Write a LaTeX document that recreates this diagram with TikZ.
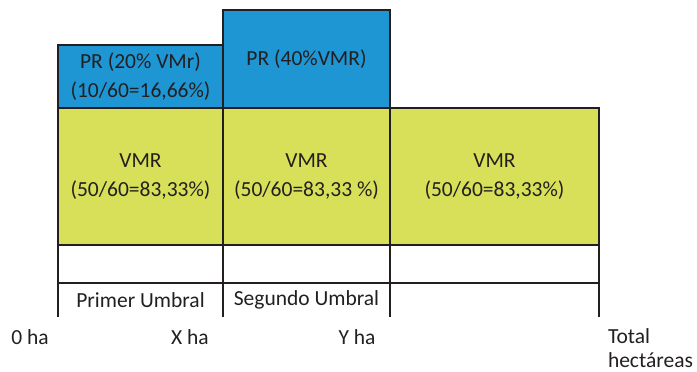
\documentclass[tikz,border=0pt]{standalone}
\usepackage{fontspec}
\setmainfont{Carlito}
\usepackage{tikz}
\definecolor{prblue}{RGB}{31,150,212}
\definecolor{vmrgreen}{RGB}{216,223,88}
\definecolor{ink}{RGB}{35,31,32}
\tikzset{
  cell/.style={draw=ink, line width=2pt, inner sep=0pt, outer sep=0pt, align=center, text=ink},
  plain/.style={inner sep=0pt, outer sep=0pt, align=center, text=ink}
}

\begin{document}
\begin{tikzpicture}[x=1pt, y=-1pt, font=\fontsize{21.5}{28.5}\selectfont]
            \useasboundingbox (0,0) rectangle (697,372);

            % Green band with the three VMR boxes
            \node[cell, fill=vmrgreen, minimum width=165pt, minimum height=137pt] (vmrA) at (140.5,176.5) {VMR\\(50/60=83,33\%)};
            \node[cell, fill=vmrgreen, minimum width=167pt, minimum height=137pt] (vmrB) at (306.5,176.5) {VMR\\(50/60=83,33 \%)};
            \node[cell, fill=vmrgreen, minimum width=209pt, minimum height=137pt] (vmrC) at (494.5,176.5) {VMR\\(50/60=83,33\%)};

            % Blue boxes on top
            \node[cell, fill=prblue, minimum width=165pt, minimum height=63pt, anchor=south] (prA) at (vmrA.north) {PR (20\% VMr)\\(10/60=16,66\%)};
            \node[cell, fill=prblue, minimum width=167pt, minimum height=98pt, anchor=south] (prB) at (vmrB.north) {PR (40\%VMR)};

            % Empty white row
            \node[cell, minimum width=165pt, minimum height=38pt, anchor=north] (rowA) at (vmrA.south) {};
            \node[cell, minimum width=167pt, minimum height=38pt, anchor=north] (rowB) at (vmrB.south) {};
            \node[cell, minimum width=209pt, minimum height=38pt, anchor=north] (rowC) at (vmrC.south) {};

            % Threshold labels
            \node[plain, minimum width=165pt, minimum height=34pt, anchor=north] (umbA) at (rowA.south) {Primer Umbral};
            \node[plain, minimum width=167pt, minimum height=34pt, anchor=north] (umbB) at (rowB.south) {Segundo Umbral};
            \node[plain, minimum width=209pt, minimum height=34pt, anchor=north] (umbC) at (rowC.south) {};
            \foreach \u in {umbA,umbB,umbC}
            \draw[ink, line width=2pt] (\u.north west) -- (\u.south west);
            \draw[ink, line width=2pt] (umbC.north east) -- (umbC.south east);

            % Axis labels
            \node[plain] (ha0) at (30,337) {0 ha};
            \node[plain] (haX) at (190,337) {X ha};
            \node[plain] (haY) at (357,337) {Y ha};
            \node[plain, anchor=west, align=left, font=\fontsize{21.5}{24}\selectfont] (haT) at (608,348) {Total\\hectáreas};
        \end{tikzpicture}
\end{document}
